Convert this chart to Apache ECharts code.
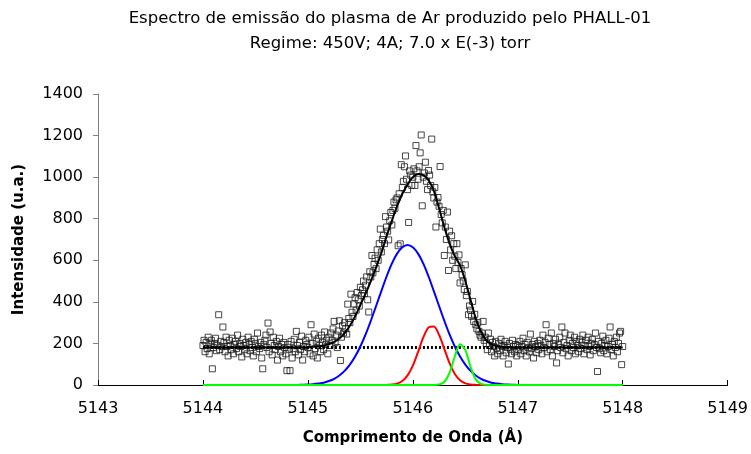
<!DOCTYPE html>
<html>
<head>
<meta charset="utf-8">
<script src="https://cdn.jsdelivr.net/npm/echarts@6/dist/echarts.min.js"></script>
<style>html,body{margin:0;padding:0;background:#fff}#c{width:751px;height:454px}</style>
</head>
<body>
<div id="c"></div>
<script>
// ---- DATA ----
const titleLines = ["Espectro de emissão do plasma de Ar produzido pelo PHALL-01", "Regime: 450V; 4A; 7.0 x E(-3) torr"];
const xAxisName = "Comprimento de Onda (Å)";
const yAxisName = "Intensidade (u.a.)";

// measured spectrum: wavelength grid start & step, intensities
const specStart = 5144.00;
const specStep = 0.01;
const specY = [
190,215,160,205,175,230,150,195,215,78,180,200,225,165,190,338,170,210,185,279,
205,160,230,185,140,215,190,170,225,150,195,210,175,240,160,200,185,135,220,190,
170,205,150,230,195,165,210,180,140,220,200,160,250,185,175,205,130,78,195,215,
240,180,298,160,255,200,145,230,190,170,210,120,185,225,160,195,140,205,180,150,
69,195,170,69,210,130,175,220,160,258,190,145,205,170,235,120,185,160,215,195,
180,230,150,290,200,140,245,175,210,130,225,190,160,240,205,170,255,195,215,150,
230,190,250,215,270,306,205,240,180,260,309,118,230,285,250,300,270,245,389,320,
300,437,350,330,390,420,360,445,410,380,470,430,458,500,440,480,520,410,351,545,
520,623,540,580,610,560,650,600,680,750,640,700,720,680,810,760,740,698,790,830,
770,840,880,850,891,900,670,920,679,1060,950,980,1050,1102,990,940,782,1030,1010,960,
1000,1040,960,1152,1030,990,1050,1117,1203,862,1000,1020,1072,980,940,1032,1010,960,1183,930,
900,950,760,880,902,860,1051,820,780,840,623,760,700,832,551,740,650,718,600,680,
620,560,680,590,626,491,560,530,500,460,578,430,450,338,380,360,330,402,306,340,
290,270,300,258,240,230,250,306,215,230,200,170,250,190,220,160,205,185,140,210,
175,150,200,165,220,185,140,190,210,155,180,101,200,170,150,215,185,160,195,140,
190,170,210,150,185,225,165,195,140,205,180,160,245,175,195,130,210,185,155,200,
170,215,190,150,240,180,205,290,160,225,195,170,250,140,200,185,220,106,165,195,
230,180,279,155,205,250,175,190,140,215,240,165,200,180,230,150,210,190,160,220,
175,205,240,150,190,215,170,230,185,145,200,220,165,195,250,180,65,210,175,155,
200,235,165,190,215,150,185,225,279,170,195,140,210,180,230,160,200,250,258,98,
185
];

// fitted curves sampled on a common wavelength grid
const curveX = [5144.00,5144.80,5144.85,5144.90,5144.95,5145.00,5145.05,5145.10,5145.15,5145.20,5145.25,5145.30,5145.35,5145.40,5145.45,5145.50,5145.55,5145.60,5145.65,5145.70,5145.75,5145.80,5145.85,5145.90,5145.95,5146.00,5146.05,5146.10,5146.15,5146.20,5146.25,5146.30,5146.35,5146.40,5146.45,5146.50,5146.55,5146.60,5146.65,5146.70,5146.75,5146.80,5146.85,5146.90,5146.95,5147.00,5147.05,5147.10,5148.00];
const blueY  = [0,0,0.3,0.6,1.1,2,4,7,11,19,30,46,68,98,137,185,243,309,380,452,522,584,632,663,674,663,632,584,522,452,380,309,243,185,137,98,68,46,30,19,11,7,4,2,1.1,0.6,0.3,0,0];
const redY   = [0,0,0,0,0,0,0,0,0,0,0,0,0,0,0,0,0,0,0,0,0.5,1.9,6.5,19,46,93,159,229,277,282,241,174,105,53,23,8,2.5,0.6,0,0,0,0,0,0,0,0,0,0,0];
const greenY = [0,0,0,0,0,0,0,0,0,0,0,0,0,0,0,0,0,0,0,0,0,0,0,0,0,0,0,0,0,0.2,2.2,14.5,58,137,196,168,87,27,5,0.6,0,0,0,0,0,0,0,0,0];
const fitY   = [180,180,180,181,181,182,184,186,190,196,207,224,250,285,330,385,440,500,565,635,715,790,860,920,965,1000,1015,1010,985,935,850,760,680,620,575,500,410,320,255,215,196,188,184,182,181,180,180,180,180];
const baseX = [5144.0, 5148.0];
const baseY = [180, 180];

// ---- CHART ----
const FONT = "DejaVu Sans";
const pair = (xs, ys) => xs.map((x, i) => [x, ys[i]]);
const specData = specY.map((y, i) => [+(specStart + i * specStep).toFixed(2), y]);

const chart = echarts.init(document.getElementById('c'), null, {renderer: 'canvas'});
chart.setOption({
  animation: false,
  backgroundColor: '#fff',
  title: {
    text: titleLines.join('\n'),
    left: 385, top: 1, textAlign: 'center',
    textStyle: {fontFamily: FONT, fontSize: 16.5, fontWeight: 'normal', color: '#000', lineHeight: 25}
  },
  grid: {left: 98, right: 22, top: 94, bottom: 69, containLabel: false},
  xAxis: {
    type: 'value', min: 5143, max: 5149, interval: 1,
    name: xAxisName, nameLocation: 'middle', nameGap: 46,
    nameTextStyle: {fontFamily: FONT, fontSize: 15, fontWeight: 'bold', color: '#000'},
    axisLine: {show: true, onZero: false, lineStyle: {color: '#000', width: 1}},
    axisTick: {show: true, inside: true, length: 5, lineStyle: {color: '#000'}},
    axisLabel: {fontFamily: FONT, fontSize: 16, color: '#000', margin: 16, formatter: v => String(v)},
    splitLine: {show: false}
  },
  yAxis: {
    type: 'value', min: 0, max: 1400, interval: 200,
    name: yAxisName, nameLocation: 'middle', nameGap: 71, nameRotate: 90,
    nameTextStyle: {fontFamily: FONT, fontSize: 15, fontWeight: 'bold', color: '#000'},
    axisLine: {show: true, lineStyle: {color: '#808080', width: 1}},
    axisTick: {show: true, inside: false, length: 5, lineStyle: {color: '#808080'}},
    axisLabel: {fontFamily: FONT, fontSize: 16, color: '#000', margin: 15, formatter: v => String(v)},
    splitLine: {show: false}
  },
  series: [
    {type: 'scatter', data: specData, symbol: 'rect', symbolSize: 6, z: 2,
     itemStyle: {color: 'rgba(0,0,0,0)', borderColor: '#1a1a1a', borderWidth: 1}},
    {type: 'line', data: pair(baseX, baseY), showSymbol: false, z: 3,
     lineStyle: {color: '#000', width: 3, type: [2, 2]}},
    {type: 'line', data: pair(curveX, blueY), showSymbol: false, smooth: 0.3, z: 4,
     lineStyle: {color: '#0000ff', width: 2}},
    {type: 'line', data: pair(curveX, redY), showSymbol: false, smooth: 0.3, z: 5,
     lineStyle: {color: '#ff0000', width: 2}},
    {type: 'line', data: pair(curveX, greenY), showSymbol: false, smooth: 0.3, z: 6,
     lineStyle: {color: '#00ff00', width: 2}},
    {type: 'line', data: pair(curveX, fitY), showSymbol: false, smooth: 0.3, z: 7,
     lineStyle: {color: '#000', width: 2}}
  ]
});
</script>
</body>
</html>
